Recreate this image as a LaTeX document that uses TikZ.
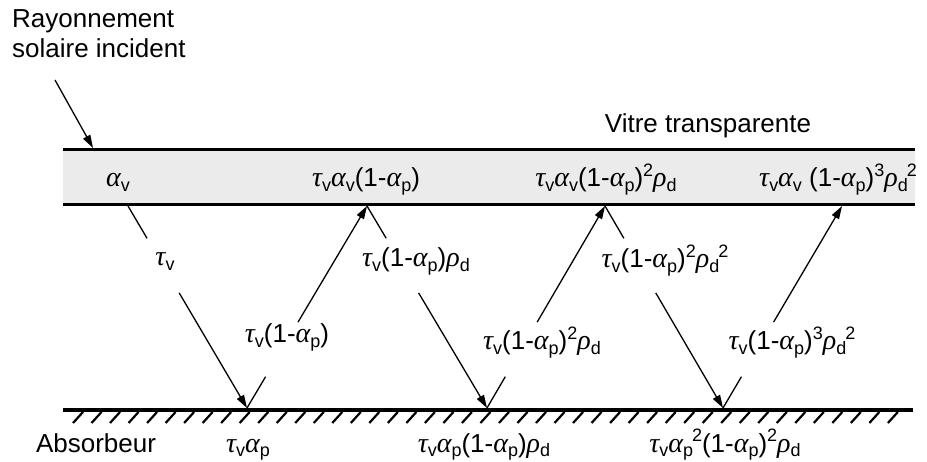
\documentclass[tikz,border=0pt]{standalone}
\usepackage{fontspec}
\setmainfont{Liberation Sans}
\newfontfamily\gkf{Liberation Serif}
\usetikzlibrary{calc,arrows.meta}
\definecolor{glassgray}{HTML}{EBEBEB}
\newcommand\gr[1]{{\gkf\itshape\fontsize{28}{30}\selectfont #1}}
\newcommand\lo[1]{\raisebox{-0.3ex}{\fontsize{18}{18}\selectfont #1}}
\newcommand\hi[1]{\raisebox{0.75ex}{\fontsize{18}{18}\selectfont #1}}
\newcommand\Tv{\gr{τ}\lo{v}}
\newcommand\Av{\gr{α}\lo{v}}
\newcommand\Ap{\gr{α}\lo{p}}
\newcommand\Rd{\gr{ρ}\lo{d}}
\begin{document}
\begin{tikzpicture}[x=1pt,y=-1pt,
  txt/.style={font=\fontsize{26}{30}\selectfont, inner sep=0pt, anchor=base west},
  eq/.style={font=\fontsize{26}{30}\selectfont, inner sep=0pt, anchor=base},
  ray/.style={line width=1.3pt},
  arr/.style={ray, -{Triangle[length=13pt,width=8pt]}},
  surf/.style={line width=3pt},
  hatch/.style={line width=2.2pt}]
\useasboundingbox (0,0) rectangle (927,462);
% glass
\fill[glassgray] (63,150) rectangle (915,205);
\draw[surf] (63,150) -- (915,150);
\draw[surf] (63,205) -- (915,205);
% absorber
\draw[line width=3.5pt] (63,410) -- (913,410);
\foreach \i in {0,...,44} \draw[hatch] ({73+\i*18.52},423) -- ++(10,-11);
% texts
\node[txt] (ray1) at (12,28) {Rayonnement};
\node[txt] (ray2) at (12,58) {solaire incident};
\node[eq] (vitre) at (708,133) {Vitre transparente};
\node[eq] (absb) at (96,452) {Absorbeur};
% incident
\coordinate (in0) at (55,80);
\coordinate (in1) at (93,148);
\draw[arr] (in0) -- (in1);
% points
\coordinate (g0) at (128,206);
\coordinate (a1) at (247,408);
\coordinate (g1) at (367,206);
\coordinate (a2) at (487,408);
\coordinate (g2) at (605,206);
\coordinate (a3) at (723,408);
\coordinate (g3) at (842,206);
% glass labels
\node[eq] (v0) at (118,187) {\Av};
\node[eq] (v1) at (366,187) {\Tv\Av(1-\Ap)};
\node[eq] (v2) at (606,187) {\Tv\Av(1-\Ap)\hi{2}\Rd};
\node[eq] (v3) at (838,187) {\Tv\Av{} (1-\Ap)\hi{3}\Rd\kern-1pt\hi{2}};
% absorber labels
\node[eq] (p1) at (248,452) {\Tv\Ap};
\node[eq] (p2) at (484,452) {\Tv\Ap(1-\Ap)\Rd};
\node[eq] (p3) at (725,452) {\Tv\Ap\kern-1pt\hi{2}(1-\Ap)\hi{2}\Rd};
% ray labels
\node[eq] (l1) at (165,266) {\Tv};
\node[eq] (l2) at (287,343) {\Tv(1-\Ap)};
\node[eq] (l3) at (416,267) {\Tv(1-\Ap)\Rd};
\node[eq] (l4) at (542,350) {\Tv(1-\Ap)\hi{2}\Rd};
\node[eq] (l5) at (665,268) {\Tv(1-\Ap)\hi{2}\Rd\kern-1pt\hi{2}};
\node[eq] (l6) at (792,350) {\Tv(1-\Ap)\hi{3}\Rd\kern-1pt\hi{2}};
% rays (down: from glass to absorber, up: from absorber to glass)
\foreach \s/\e/\n in {g0/a1/1, g1/a2/3, g2/a3/5}{
  \coordinate (c\n a) at ($(\s)!0.16!(\e)$);
  \coordinate (c\n b) at ($(\s)!0.43!(\e)$);
  \draw[ray] (\s) -- (c\n a);
  \draw[arr] (c\n b) -- (\e);
}
\foreach \s/\e/\n in {a1/g1/2, a2/g2/4, a3/g3/6}{
  \coordinate (c\n a) at ($(\s)!0.155!(\e)$);
  \coordinate (c\n b) at ($(\s)!0.425!(\e)$);
  \draw[ray] (\s) -- (c\n a);
  \draw[arr] (c\n b) -- (\e);
}
\end{tikzpicture}
\end{document}
